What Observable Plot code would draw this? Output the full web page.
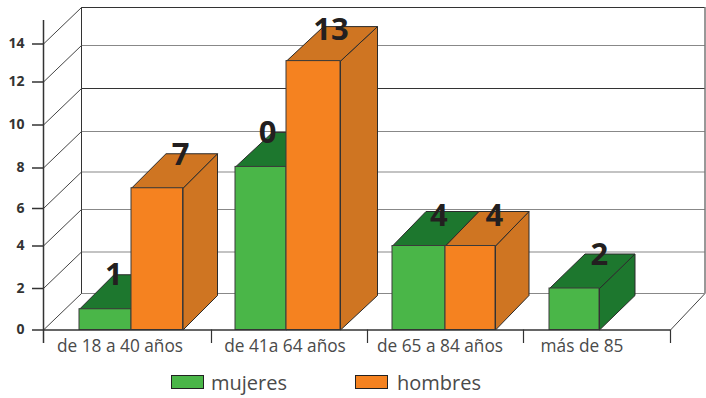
<!DOCTYPE html>
<html lang="es">
<head>
<meta charset="utf-8">
<script src="https://cdn.jsdelivr.net/npm/d3@7"></script>
<script src="https://cdn.jsdelivr.net/npm/@observablehq/plot@0.6"></script>
<style>
  html, body { margin: 0; padding: 0; background: #fff; }
  #chart svg { display: block; }
  #legend { position: relative; height: 33px; font-family: "Open Sans", sans-serif; color: #4a4a4a; font-size: 20px; }
  #legend i { position: absolute; top: 10px; width: 31px; height: 12px; border: 1px solid #222; box-sizing: content-box; }
  #legend span { position: absolute; top: 3px; line-height: 30px; white-space: nowrap; }
</style>
</head>
<body>
<div id="chart"></div>
<div id="legend"></div>
<script>
const categories = ["de 18 a 40 años", "de 41a 64 años", "de 65 a 84 años", "más de 85"];
const mujeres = [1, 8.05, 4, 2];
const hombres = [7, 13.1, 4, null];
const mujeresLabels = ["1", "0", "4", "2"];
const hombresLabels = ["7", "13", "4", ""];
const yTicks = [0, 2, 4, 6, 8, 10, 12, 14];

// Layout: the original axis is not perfectly regular, so both scales are piecewise.
const yOpts = { domain: [...yTicks, 16], range: [329.5, 288, 245.5, 208, 167.5, 124.5, 81.5, 43.5, 3] };
const xOpts = {
  domain: [0, .2, .5, .8, 1, 1.2, 1.5, 1.8, 2, 2.2, 2.5, 2.8, 3, 3.2, 3.5, 4, 4.4],
  range: [43, 79, 131, 182.5, 211, 235, 286, 340, 367, 392, 445, 495, 523, 549, 599, 670, 718]
};
const xs = d3.scaleLinear(xOpts.domain, xOpts.range);
const ys = d3.scaleLinear(yOpts.domain, yOpts.range);
const backX = (v, d) => xs.invert(xs(v) + d);
const backY = (v, d) => ys.invert(ys(v) - d);

const BAR_DX = [34.5, 37, 33.5, 35.5], BAR_DY = 34.5, WALL_DX = 38, WALL_DY = 36.5, WALL_DX_R = 34.5;
const colors = { m: "#4ab648", mDark: "#1d772e", h: "#f58220", hDark: "#cf7522" };

function bars(values, offset, front, dark) {
  return values.map((v, i) => ({ v, x1: i + offset, x2: i + offset + .3, front, dark, i }))
    .filter(d => d.v != null);
}
function faces(list, key) {
  const pts = [];
  for (const b of list) {
    const a = backX(b.x1, BAR_DX[b.i]), c = backX(b.x2, BAR_DX[b.i]), t = backY(b.v, BAR_DY), g = backY(0, BAR_DY);
    const top = [[b.x1, b.v], [a, t], [c, t], [b.x2, b.v], [b.x1, b.v]];
    const side = [[b.x2, b.v], [c, t], [c, g], [b.x2, 0], [b.x2, b.v]];
    side.forEach(p => pts.push({ x: p[0], y: p[1], id: key + b.i + "s", fill: b.dark }));
    top.forEach(p => pts.push({ x: p[0], y: p[1], id: key + b.i + "t", fill: b.dark }));
  }
  return pts;
}
function barMarks(list, key) {
  return [
    Plot.line(faces(list, key), { x: "x", y: "y", z: "id", fill: "fill", stroke: "#2b2b2b", strokeWidth: 1, strokeLinejoin: "round" }),
    Plot.rect(list, { x1: "x1", x2: "x2", y1: () => 0, y2: "v", fill: "front", stroke: "#3a3a3a", strokeWidth: 1 })
  ];
}

const bM = bars(mujeres, .2, colors.m, colors.mDark);
const bH = bars(hombres, .5, colors.h, colors.hDark);

const wallL = backX(0, WALL_DX), wallR = backX(4, WALL_DX_R);
const levelStroke = ["#888", "#888", "#888", "#888", "#888", "#333", "#888", "#333"];
const levels = yTicks.map((t, i) => ({ t, back: backY(t, WALL_DY), stroke: levelStroke[i] }));
const diagonals = [
  ...levels.flatMap(l => [{ x: 0, y: l.t, id: "d" + l.t }, { x: wallL, y: l.back, id: "d" + l.t }]),
  { x: 4, y: 0, id: "r" }, { x: wallR, y: backY(0, WALL_DY), id: "r" }
];

// Label nudges in pixels, relative to the centre of each bar's top face.
const labelNudge = { m: [-9, -12, 3, 7], h: [6, -1, 7, 0] };
const labelNudgeY = { m: [0, 1, 5, 1], h: [1, 3, 5, 0] };
const catNudge = [-11.5, -1.5, -5.5, -17.5];

function labelMarks(list, texts, nudge, nudgeY) {
  return list.map(b => Plot.text([b], {
    x: d => backX((d.x1 + d.x2) / 2, BAR_DX[d.i] / 2),
    y: d => backY(d.v, BAR_DY),
    text: d => texts[d.i],
    dx: nudge[b.i], dy: nudgeY[b.i],
    fontSize: 31, fontWeight: 700, fill: "#231f20", fontFamily: "Open Sans, sans-serif", textAnchor: "middle", lineAnchor: "middle"
  }));
}

const plot = Plot.plot({
  width: 706, height: 365,
  marginLeft: 43, marginRight: 0, marginTop: 0, marginBottom: 20,
  x: { transform: xs, domain: [0, 706], range: [0, 706], axis: null },
  y: { transform: ys, domain: [0, 365], range: [0, 365], axis: null },
  style: { background: "#fff", fontFamily: "Open Sans, sans-serif" },
  marks: [
    Plot.ruleY(levels, { y: "back", x1: () => wallL, x2: () => wallR, stroke: "stroke", strokeWidth: 1.1 }),
    Plot.ruleX([wallL, wallR], { y1: () => backY(0, WALL_DY), y2: () => levels[7].back, stroke: "#333", strokeWidth: 1 }),
    Plot.line(diagonals, { x: "x", y: "y", z: "id", stroke: "#444", strokeWidth: 1 }),
    ...barMarks(bM, "m"),
    ...barMarks(bH, "h"),
    Plot.ruleY([0], { x1: () => 0, x2: () => 4, stroke: "#333", strokeWidth: 1.5 }),
    Plot.ruleX([0], { y1: () => ys.invert(343), y2: () => ys.invert(20), stroke: "#333", strokeWidth: 1.5 }),
    Plot.ruleX([1, 2, 3, 4], { y1: () => 0, y2: () => ys.invert(343), stroke: "#333", strokeWidth: 1.2 }),
    Plot.ruleY(yTicks, { y: d => d, x1: () => xs.invert(32), x2: () => 0, stroke: "#333", strokeWidth: 1.5 }),
    Plot.text(yTicks, { x: () => 0, y: d => d, text: d => String(d), dx: -19, textAnchor: "end", lineAnchor: "middle",
      fontSize: 14, fontWeight: 700, fill: "#333", fontFamily: "Open Sans, sans-serif" }),
    ...categories.map((c, i) => Plot.text([c], {
      x: () => i + .5, y: () => 0, dx: catNudge[i], dy: 16.5, text: d => d,
      fontSize: 17.3, fill: "#4a4a4a", fontFamily: "Open Sans, sans-serif", lineAnchor: "middle"
    })),
    ...labelMarks(bM, mujeresLabels, labelNudge.m, labelNudgeY.m),
    ...labelMarks(bH, hombresLabels, labelNudge.h, labelNudgeY.h)
  ]
});
document.getElementById("chart").append(plot);

const legend = document.getElementById("legend");
legend.innerHTML =
  `<i style="left:171px;background:${colors.m}"></i><span style="left:211px">mujeres</span>` +
  `<i style="left:355px;background:${colors.h}"></i><span style="left:397px">hombres</span>`;
</script>
</body>
</html>
